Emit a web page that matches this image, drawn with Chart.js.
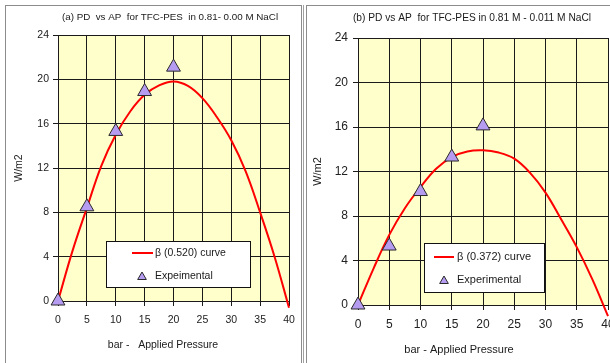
<!DOCTYPE html>
<html>
<head>
<meta charset="utf-8">
<script src="https://cdn.jsdelivr.net/npm/chart.js@4.4.1/dist/chart.umd.min.js"></script>
<style>
  html, body { margin: 0; padding: 0; background: #fff; width: 610px; height: 363px; overflow: hidden; }
  .panel { position: absolute; border: 1px solid #8c8c8c; box-sizing: border-box; }
  #panelA { left: 5px; top: 5px; width: 297px; height: 362px; }
  #panelA::after { content: ""; position: absolute; right: -3px; top: -1px; width: 1px; height: 362px; background: #a0a0a0; }
  #panelB { left: 306px; top: 5px; width: 330px; height: 380px; }
  canvas { position: absolute; top: 0; }
  #chartA { left: 0; }
  #chartB { left: 305px; }
</style>
</head>
<body>
<div class="panel" id="panelA"></div>
<div class="panel" id="panelB"></div>
<canvas id="chartA" width="305" height="363" style="width:305px;height:363px"></canvas>
<canvas id="chartB" width="320" height="363" style="width:320px;height:363px"></canvas>
<script>
// Applied pressure (bar) of the measured points
const pressure = [0, 5, 10, 15, 20];
// Measured power density (W/m2)
const expA = [0, 8.5, 15.3, 18.9, 21.1];
const expB = [0, 5.3, 10.2, 13.3, 16.1];

// Model curves, sampled along the pressure axis
const curveX = [0, 2.5, 5, 7.5, 10, 12.5, 15, 17.5, 20, 22.5, 25, 27.5, 30, 32.5, 35, 37.5, 40];
const curveA = [0, 4.5, 8.4, 12.2, 15.0, 17.1, 18.6, 19.45, 19.8, 19.4, 18.3, 16.6, 14.5, 11.7, 8.0, 4.0, -0.6];
const curveB = [0, 3.3, 6.3, 8.7, 10.6, 12.25, 13.3, 13.8, 13.9, 13.7, 13.15, 11.9, 10.1, 7.7, 5.2, 2.3, -1.0];

// Axis ticks
const xTicks = [0, 5, 10, 15, 20, 25, 30, 35, 40];
const yTicks = [0, 4, 8, 12, 16, 20, 24];

// Text
const titleA = '(a) PD  vs AP  for TFC-PES  in 0.81- 0.00 M NaCl';
const titleB = '(b) PD vs AP  for TFC-PES in 0.81 M - 0.011 M NaCl';
const xTitleA = 'bar -   Applied Pressure';
const xTitleB = 'bar - Applied Pressure';
const yTitle = 'W/m2';
const curveLabelA = '\u03b2 (0.520) curve';
const curveLabelB = '\u03b2 (0.372) curve';
const expLabelA = 'Expeimental';
const expLabelB = 'Experimental';

const FONT = '"Liberation Sans", Arial, sans-serif';

const toPoints = (xs, ys) => xs.map((x, i) => ({ x, y: ys[i] }));

// Pale yellow plot area
const plotBackground = {
  id: 'plotBackground',
  beforeDraw(chart) {
    const { ctx, chartArea: a } = chart;
    ctx.save();
    ctx.fillStyle = '#ffffcc';
    ctx.fillRect(a.left, a.top, a.right - a.left, a.bottom - a.top);
    ctx.restore();
  }
};

// Free-standing texts: chart heading and pressure axis caption
const panelTexts = {
  id: 'panelTexts',
  afterDraw(chart, args, opts) {
    const ctx = chart.ctx;
    ctx.save();
    ctx.textAlign = 'center';
    ctx.textBaseline = 'middle';
    ctx.fillStyle = '#1a1a1a';
    for (const t of opts.items || []) {
      ctx.font = t.size + 'px ' + FONT;
      ctx.fillText(t.text, t.x, t.y);
    }
    ctx.restore();
  }
};

// Boxed legend placed inside the plot area
const boxLegend = {
  id: 'boxLegend',
  afterDatasetsDraw(chart, args, o) {
    const ctx = chart.ctx;
    const curve = chart.data.datasets[0];
    const exp = chart.data.datasets[1];
    ctx.save();
    ctx.fillStyle = '#ffffff';
    ctx.fillRect(o.x, o.y, o.w, o.h);
    ctx.strokeStyle = '#111';
    ctx.lineWidth = 1;
    ctx.strokeRect(o.x + 0.5, o.y + 0.5, o.w - 1, o.h - 1);

    ctx.strokeStyle = curve.borderColor;
    ctx.lineWidth = curve.borderWidth;
    ctx.beginPath();
    ctx.moveTo(o.lineX0, o.row1);
    ctx.lineTo(o.lineX1, o.row1);
    ctx.stroke();

    ctx.fillStyle = exp.backgroundColor;
    ctx.strokeStyle = exp.borderColor;
    ctx.lineWidth = 1;
    Chart.helpers.drawPoint(ctx, { pointStyle: 'triangle', radius: o.markR, borderWidth: 1, rotation: 0 }, o.markX, o.row2 + 1);

    ctx.fillStyle = '#1a1a1a';
    ctx.font = o.size + 'px ' + FONT;
    ctx.textAlign = 'left';
    ctx.textBaseline = 'middle';
    ctx.fillText(curve.label, o.textX, o.row1);
    ctx.fillText(exp.label, o.textX, o.row2);
    ctx.restore();
  }
};

function makeChart(id, cfg) {
  const gridColor = '#1a1a1a';
  return new Chart(document.getElementById(id), {
    type: 'scatter',
    data: {
      datasets: [
        {
          label: cfg.curveLabel,
          data: toPoints(curveX, cfg.curve),
          showLine: true,
          borderColor: '#ff0000',
          backgroundColor: '#ff0000',
          borderWidth: 2,
          pointRadius: 0,
          tension: 0.4,
          clip: false,
          order: 1
        },
        {
          label: cfg.expLabel,
          data: toPoints(pressure, cfg.exp),
          showLine: false,
          pointStyle: 'triangle',
          pointRadius: 8,
          pointHoverRadius: 8,
          backgroundColor: '#b59cf0',
          borderColor: '#2a2a2a',
          borderWidth: 1,
          clip: false,
          order: 0
        }
      ]
    },
    options: {
      responsive: false,
      animation: false,
      events: [],
      layout: { padding: cfg.padding },
      plugins: {
        legend: { display: false },
        tooltip: { enabled: false },
        panelTexts: { items: cfg.texts },
        boxLegend: cfg.legend
      },
      scales: {
        x: {
          type: 'linear',
          min: xTicks[0],
          max: xTicks[xTicks.length - 1],
          afterBuildTicks: (s) => { s.ticks = xTicks.map(v => ({ value: v })); },
          afterFit: (s) => { s.height = cfg.xHeight; },
          ticks: { color: '#222', font: { family: FONT, size: cfg.tickSize }, padding: cfg.xTickPad, maxRotation: 0, autoSkip: false },
          grid: { color: gridColor, lineWidth: 1, tickLength: 5, drawTicks: true },
          border: { color: gridColor, width: 1 }
        },
        y: {
          type: 'linear',
          min: yTicks[0],
          max: yTicks[yTicks.length - 1],
          afterBuildTicks: (s) => { s.ticks = yTicks.map(v => ({ value: v })); },
          afterFit: (s) => { s.width = 50; },
          ticks: { color: '#222', font: { family: FONT, size: cfg.tickSize }, padding: cfg.yTickPad },
          grid: { color: gridColor, lineWidth: 1, tickLength: 5, drawTicks: true },
          border: { color: gridColor, width: 1 },
          title: { display: true, text: yTitle, color: '#1a1a1a', font: { family: FONT, size: cfg.labelSize }, padding: { top: cfg.yTitlePad, bottom: 0 } }
        }
      }
    },
    plugins: [plotBackground, panelTexts, boxLegend]
  });
}

makeChart('chartA', {
  curve: curveA, exp: expA,
  curveLabel: curveLabelA, expLabel: expLabelA,
  padding: { left: 8, top: 35, right: 16, bottom: 0 },
  xHeight: 62, tickSize: 10.5, labelSize: 10.5, xTickPad: 8, yTickPad: 4, yTitlePad: 5,
  texts: [
    { text: titleA, x: 170, y: 17, size: 9.8 },
    { text: xTitleA, x: 163, y: 345, size: 10.5 }
  ],
  legend: { x: 106, y: 241, w: 145, h: 47, lineX0: 132, lineX1: 153, row1: 253, row2: 276, markX: 142, markR: 5, textX: 155, size: 10.5 }
});

makeChart('chartB', {
  curve: curveB, exp: expB,
  curveLabel: curveLabelB, expLabel: expLabelB,
  padding: { left: 3, top: 38, right: 17, bottom: 0 },
  xHeight: 58, tickSize: 12, labelSize: 11, xTickPad: 7, yTickPad: 5, yTitlePad: 3,
  texts: [
    { text: titleB, x: 167, y: 18, size: 10.2 },
    { text: xTitleB, x: 154, y: 350, size: 11 }
  ],
  legend: { x: 119, y: 243, w: 121, h: 50, lineX0: 129, lineX1: 149, row1: 257, row2: 280, markX: 139, markR: 5, textX: 152, size: 11 }
});
</script>
</body>
</html>
